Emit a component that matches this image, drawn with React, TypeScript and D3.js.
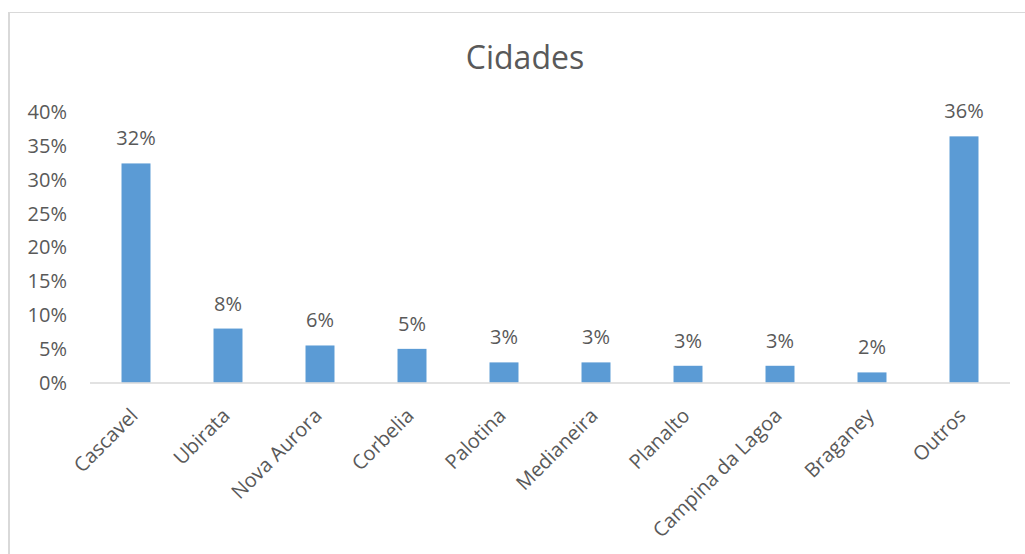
import React from "react";
import * as d3 from "d3";

const categories = [
  "Cascavel",
  "Ubirata",
  "Nova Aurora",
  "Corbelia",
  "Palotina",
  "Medianeira",
  "Planalto",
  "Campina da Lagoa",
  "Braganey",
  "Outros",
];
const values = [0.324, 0.080, 0.055, 0.050, 0.030, 0.030, 0.025, 0.025, 0.0152, 0.364];
const yTicks = [0, 0.05, 0.1, 0.15, 0.2, 0.25, 0.3, 0.35, 0.4];
const title = "Cidades";

const W = 1025;
const H = 554;
const FONT = "'Open Sans', sans-serif";
const TEXT = "#595959";
const BAR = "#5B9BD5";
const GRID = "#D9D9D9";

export default function App() {
  const x = d3
    .scaleBand<string>()
    .domain(categories)
    .range([90, 1010])
    .paddingInner(0.685)
    .paddingOuter(0.3425);
  const y = d3.scaleLinear().domain([0, 0.4]).range([382.7, 112]);
  const pct = d3.format(".0%");

  return (
    <svg
      width={W}
      height={H}
      style={{ position: "absolute", left: 0, top: 0, background: "#fff" }}
      fontFamily={FONT}
    >
      <rect x={0} y={0} width={W} height={H} fill="#fff" />
      <line x1={9} x2={W} y1={12.5} y2={12.5} stroke={GRID} strokeWidth={1} />
      <line x1={9} x2={9} y1={12} y2={H} stroke={GRID} strokeWidth={2} />

      <text x={525} y={69} textAnchor="middle" fontSize={32} fill={TEXT}>
        {title}
      </text>

      {yTicks.map((t) => (
        <text
          key={t}
          x={67}
          y={y(t) + 7}
          textAnchor="end"
          fontSize={20}
          fill={TEXT}
        >
          {pct(t)}
        </text>
      ))}

      {categories.map((c, i) => (
        <rect
          key={c}
          x={x(c)!}
          y={y(values[i])}
          width={x.bandwidth()}
          height={y(0) - y(values[i])}
          fill={BAR}
        />
      ))}

      <line x1={90} x2={1010} y1={383} y2={383} stroke={GRID} strokeWidth={1.5} />

      {categories.map((c, i) => (
        <text
          key={"v" + c}
          x={x(c)! + x.bandwidth() / 2}
          y={y(values[i]) - 18}
          textAnchor="middle"
          fontSize={20}
          fill={TEXT}
        >
          {pct(values[i])}
        </text>
      ))}

      {categories.map((c) => {
        const cx = x(c)! + x.bandwidth() / 2 + 3;
        const cy = 417;
        return (
          <text
            key={"l" + c}
            transform={`translate(${cx},${cy}) rotate(-45)`}
            textAnchor="end"
            fontSize={20}
            fill={TEXT}
          >
            {c}
          </text>
        );
      })}
    </svg>
  );
}
